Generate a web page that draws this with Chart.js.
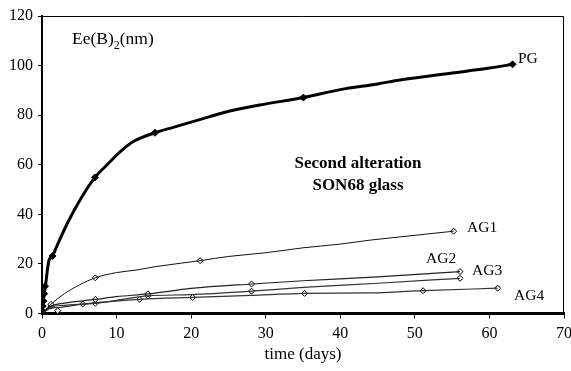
<!DOCTYPE html>
<html>
<head>
<meta charset="utf-8">
<script src="https://cdn.jsdelivr.net/npm/chart.js@4.4.1/dist/chart.umd.min.js"></script>
<style>
  html, body { margin: 0; padding: 0; background: #fff; }
  #wrap { width: 571px; height: 371px; }
</style>
</head>
<body>
<div id="wrap"><canvas id="alterChart" width="571" height="371"></canvas></div>
<script>
// traced curves (days, nm)
const pgDays = [0, 0.15, 0.3, 0.5, 0.7, 0.95, 1.4, 2.05, 3.4, 5.1, 7.1, 8.7, 10.5, 12.2, 15.15, 17.6, 20, 22.5, 24.3, 29.2, 35.05, 40, 45, 48, 55, 60, 63.1];
const pgVals = [0, 4, 8, 12, 17, 21.6, 23.2, 27.6, 36.4, 45.8, 54.9, 59.9, 65.3, 69.3, 72.9, 75.1, 77.2, 79.4, 81, 84.1, 87.1, 90.3, 92.6, 94.2, 97, 99, 100.5];

const ag1Days = [0, 0.3, 1.2, 3, 5, 7.15, 10, 12.6, 15, 21.2, 25, 30, 35, 40, 44, 48, 55.2];
const ag1Vals = [0, 1, 3.7, 8, 11.5, 14.4, 16.5, 17.5, 18.8, 21.3, 23, 24.5, 26.5, 28, 29.6, 30.9, 33.2];

const ag2Days = [0, 1.2, 3, 7.15, 10, 14.2, 20, 28.1, 35, 45, 56.05];
const ag2Vals = [0, 3, 4.2, 5.7, 6.8, 7.9, 10.1, 11.9, 13.2, 14.8, 16.9];

const ag3Days = [0, 1.2, 3, 7.15, 10, 14.2, 20, 28.1, 35, 45, 56.05];
const ag3Vals = [0, 2.6, 3.3, 4.1, 5.3, 7.1, 7.6, 9.0, 10.5, 12.2, 14.2];

const ag4Days = [0, 1.2, 2.1, 5.45, 13.1, 20.2, 28, 35.2, 44, 51.1, 61.1];
const ag4Vals = [0, 2.2, 2.4, 3.8, 5.7, 6.5, 7.3, 8.1, 8.3, 9.2, 10.2];

// measured points (markers)
const pgMarkDays = [0.05, 0.1, 0.2, 0.3, 0.4, 1.4, 7.1, 15.15, 35.05, 63.1];
const pgMarkVals = [1, 3, 5, 8, 11, 23.2, 54.9, 72.9, 87.1, 100.5];
const ag1MarkDays = [1.2, 7.15, 21.2, 55.2];
const ag1MarkVals = [3.7, 14.4, 21.3, 33.2];
const ag2MarkDays = [1.2, 7.15, 14.2, 28.1, 56.05];
const ag2MarkVals = [3, 5.7, 7.9, 11.9, 16.9];
const ag3MarkDays = [7.15, 14.2, 28.1, 56.05];
const ag3MarkVals = [4.1, 7.1, 9.0, 14.2];
const ag4MarkDays = [2.1, 5.45, 13.1, 20.2, 35.2, 51.1, 61.1];
const ag4MarkVals = [1.1, 3.8, 5.7, 6.5, 8.1, 9.2, 10.2];

const xTicks = [0, 10, 20, 30, 40, 50, 60, 70];
const yTicks = [0, 20, 40, 60, 80, 100, 120];

const zip = (xs, ys) => xs.map((x, i) => ({ x, y: ys[i] }));

const serif = "'Liberation Serif', 'Times New Roman', serif";

function curve(xs, ys, width, color) {
    return {
        data: zip(xs, ys),
        borderColor: color,
        borderWidth: width,
        pointRadius: 0,
        tension: 0.35,
        cubicInterpolationMode: "monotone",
        fill: false
    };
}

function marks(xs, ys, filled, r) {
    return {
        data: zip(xs, ys),
        showLine: false,
        pointStyle: "rectRot",
        pointRadius: r,
        pointBackgroundColor: filled ? "#000" : "#fff",
        pointBorderColor: "#000",
        pointBorderWidth: 1
    };
}

const textPlugin = {
    id: "chartText",
    afterDraw(chart) {
        const { ctx, chartArea: a } = chart;
        ctx.save();
        // frame top/right
        ctx.strokeStyle = "#000";
        ctx.lineWidth = 1;
        ctx.beginPath();
        ctx.moveTo(a.left, a.top + 0.5);
        ctx.lineTo(a.right - 0.5, a.top + 0.5);
        ctx.lineTo(a.right - 0.5, a.bottom);
        ctx.stroke();

        ctx.fillStyle = "#000";
        ctx.textBaseline = "alphabetic";
        ctx.textAlign = "left";
        // y title with subscript
        const tx = 72, ty = 44;
        ctx.font = "17.5px " + serif;
        ctx.fillText("Ee(B)", tx, ty);
        const w = ctx.measureText("Ee(B)").width;
        ctx.font = "12px " + serif;
        ctx.fillText("2", tx + w, ty + 5);
        const w2 = ctx.measureText("2").width;
        ctx.font = "17.5px " + serif;
        ctx.fillText("(nm)", tx + w + w2, ty);

        ctx.font = "15.5px " + serif;
        ctx.fillText("PG", 518, 63);
        ctx.fillText("AG1", 467, 232);
        ctx.fillText("AG2", 426, 263);
        ctx.fillText("AG3", 472, 275);
        ctx.fillText("AG4", 514, 300);

        ctx.font = "bold 17px " + serif;
        ctx.textAlign = "center";
        ctx.fillText("Second alteration", 358, 168);
        ctx.fillText("SON68 glass", 358, 190);
        ctx.restore();
    }
};

new Chart(document.getElementById("alterChart"), {
    type: "line",
    data: {
        datasets: [
            curve(pgDays, pgVals, 3, "#000"),
            curve(ag1Days, ag1Vals, 1, "#111"),
            curve(ag2Days, ag2Vals, 1.2, "#222"),
            curve(ag3Days, ag3Vals, 1.2, "#333"),
            curve(ag4Days, ag4Vals, 1.2, "#333"),
            marks(pgMarkDays, pgMarkVals, true, 3.5),
            marks(ag1MarkDays, ag1MarkVals, false, 3),
            marks(ag2MarkDays, ag2MarkVals, false, 3),
            marks(ag3MarkDays, ag3MarkVals, false, 3),
            marks(ag4MarkDays, ag4MarkVals, false, 3)
        ]
    },
    options: {
        responsive: false,
        animation: false,
        layout: { padding: { top: 16, right: 7, left: 0, bottom: 6 } },
        plugins: {
            legend: { display: false },
            tooltip: { enabled: false }
        },
        scales: {
            x: {
                type: "linear",
                min: 0,
                max: 70,
                afterBuildTicks: s => { s.ticks = xTicks.map(v => ({ value: v })); },
                afterFit: s => { s.height = 51.5; s.paddingLeft = 0; s.paddingRight = 0; },
                grid: { drawOnChartArea: false, tickLength: 5, color: "#000", lineWidth: 1 },
                border: { color: "#000", width: 3 },
                ticks: { color: "#000", font: { family: serif, size: 16 }, padding: 6, maxRotation: 0 },
                title: {
                    display: true,
                    text: "time (days)",
                    color: "#000",
                    font: { family: serif, size: 17 },
                    padding: { top: 0, bottom: 0 }
                }
            },
            y: {
                min: 0,
                max: 120,
                afterBuildTicks: s => { s.ticks = yTicks.map(v => ({ value: v })); },
                afterFit: s => { s.width = 42; s.paddingTop = 0; s.paddingBottom = 0; },
                grid: { drawOnChartArea: false, tickLength: 4, color: "#000", lineWidth: 1 },
                border: { color: "#000", width: 2 },
                ticks: { color: "#000", font: { family: serif, size: 16 }, padding: 5 }
            }
        }
    },
    plugins: [textPlugin]
});
</script>
</body>
</html>
